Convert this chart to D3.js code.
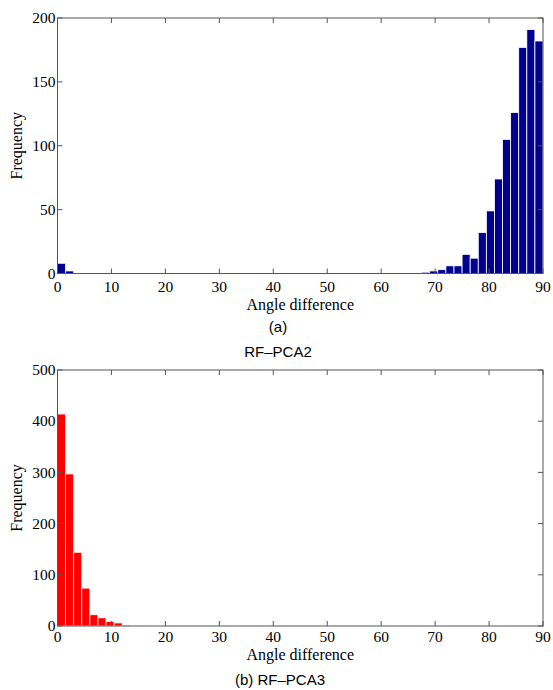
<!DOCTYPE html>
<html lang="en">
<head>
    <meta charset="UTF-8">
    <title>Angle difference histograms</title>
    <script src="https://d3js.org/d3.v7.min.js"></script>
    <style>
        body { margin: 0; background: #fff; }
        svg { display: block; }
        .tick-label { font-family: "Liberation Serif", "Times New Roman", serif; font-size: 15.5px; fill: #000; }
        .axis-label { font-family: "Liberation Serif", "Times New Roman", serif; font-size: 16px; fill: #000; }
        .caption { font-family: "Liberation Sans", Arial, sans-serif; font-size: 15px; fill: #000; }
    </style>
</head>
<body>
<script>
    // 60 bins of 1.5 degrees over 0..90
    const binWidth = 1.5;
    const rfPca2Counts = [
        8, 2, 0, 0, 0, 0, 0, 0, 0, 0,
        0, 0, 0, 0, 0, 0, 0, 0, 0, 0,
        0, 0, 0, 0, 0, 0, 0, 0, 0, 0,
        0, 0, 0, 0, 0, 0, 0, 0, 0, 0,
        0, 0, 0, 0, 0, 1, 2, 3, 6, 6,
        15, 12, 32, 49, 74, 105, 126, 177, 191, 182
    ];
    const rfPca3Counts = [
        414, 297, 144, 74, 22, 16, 9, 6, 2, 0,
        1, 0, 1, 0, 0, 0, 0, 0, 0, 0,
        0, 0, 0, 0, 0, 0, 0, 0, 0, 0,
        0, 0, 0, 0, 0, 0, 0, 0, 0, 0,
        0, 0, 0, 0, 0, 0, 0, 0, 0, 1,
        1, 0, 0, 1, 1, 0, 0, 0, 0, 0
    ];
    const xTicks = [0, 10, 20, 30, 40, 50, 60, 70, 80, 90];
    const yTicksA = [0, 50, 100, 150, 200];
    const yTicksB = [0, 100, 200, 300, 400, 500];

    const W = 553, H = 690;
    const svg = d3.select("body").append("svg")
        .attr("width", W)
        .attr("height", H);

    function drawPanel(cfg) {
        const x = d3.scaleLinear().domain([0, 90]).range([57.5, 543]);
        const y = d3.scaleLinear().domain([0, cfg.yMax]).range([cfg.bottom, cfg.top]);
        const g = svg.append("g");

        // bars
        g.selectAll("rect.bar")
            .data(cfg.counts.map((c, i) => ({ x0: i * binWidth, x1: (i + 1) * binWidth, c })).filter(d => d.c > 0))
            .enter()
            .append("rect")
            .attr("class", "bar")
            .attr("x", d => x(d.x0))
            .attr("width", d => x(d.x1) - x(d.x0))
            .attr("y", d => y(d.c))
            .attr("height", d => y(0) - y(d.c))
            .attr("fill", cfg.color)
            .attr("stroke", "#fff")
            .attr("stroke-width", 0.8);

        // box
        g.append("rect")
            .attr("x", x(0)).attr("y", y(cfg.yMax))
            .attr("width", x(90) - x(0)).attr("height", y(0) - y(cfg.yMax))
            .attr("fill", "none").attr("stroke", "#555").attr("stroke-width", 1);

        // x ticks (bottom and top, inward)
        const tl = 5;
        xTicks.forEach(t => {
            g.append("line").attr("x1", x(t)).attr("x2", x(t))
                .attr("y1", y(0)).attr("y2", y(0) - tl)
                .attr("stroke", "#555");
            g.append("line").attr("x1", x(t)).attr("x2", x(t))
                .attr("y1", y(cfg.yMax)).attr("y2", y(cfg.yMax) + tl)
                .attr("stroke", "#555");
        });
        g.selectAll("text.xt")
            .data(xTicks)
            .enter()
            .append("text")
            .attr("class", "tick-label xt")
            .attr("x", d => x(d))
            .attr("y", y(0) + cfg.tickDy)
            .attr("text-anchor", "middle")
            .text(d => d);

        // y ticks (left and right, inward)
        cfg.yTicks.forEach(t => {
            g.append("line").attr("x1", x(0)).attr("x2", x(0) + tl)
                .attr("y1", y(t)).attr("y2", y(t)).attr("stroke", "#555");
            g.append("line").attr("x1", x(90)).attr("x2", x(90) - tl)
                .attr("y1", y(t)).attr("y2", y(t)).attr("stroke", "#555");
        });
        g.selectAll("text.yt")
            .data(cfg.yTicks)
            .enter()
            .append("text")
            .attr("class", "tick-label yt")
            .attr("x", x(0) - 2)
            .attr("y", d => y(d))
            .attr("dy", "0.34em")
            .attr("text-anchor", "end")
            .text(d => d);

        // axis labels
        g.append("text")
            .attr("class", "axis-label")
            .attr("x", (x(0) + x(90)) / 2)
            .attr("y", y(0) + cfg.labelDy)
            .attr("text-anchor", "middle")
            .text("Angle difference");
        g.append("text")
            .attr("class", "axis-label")
            .attr("transform", `translate(22,${(y(0) + y(cfg.yMax)) / 2}) rotate(-90)`)
            .attr("text-anchor", "middle")
            .text("Frequency");

        // captions
        cfg.captions.forEach(c => {
            g.append("text")
                .attr("class", "caption")
                .attr("x", c.x)
                .attr("y", c.y)
                .attr("text-anchor", "middle")
                .text(c.text);
        });
    }

    drawPanel({
        counts: rfPca2Counts, yMax: 200, yTicks: yTicksA,
        top: 18, bottom: 273.5, color: "#00008f", tickDy: 18.5, labelDy: 36,
        captions: [{ text: "(a)", x: 278, y: 332 }, { text: "RF–PCA2", x: 278, y: 357 }]
    });
    drawPanel({
        counts: rfPca3Counts, yMax: 500, yTicks: yTicksB,
        top: 370, bottom: 626, color: "#ff0000", tickDy: 16, labelDy: 33.5,
        captions: [{ text: "(b)  RF–PCA3", x: 280, y: 685 }]
    });
</script>
</body>
</html>
